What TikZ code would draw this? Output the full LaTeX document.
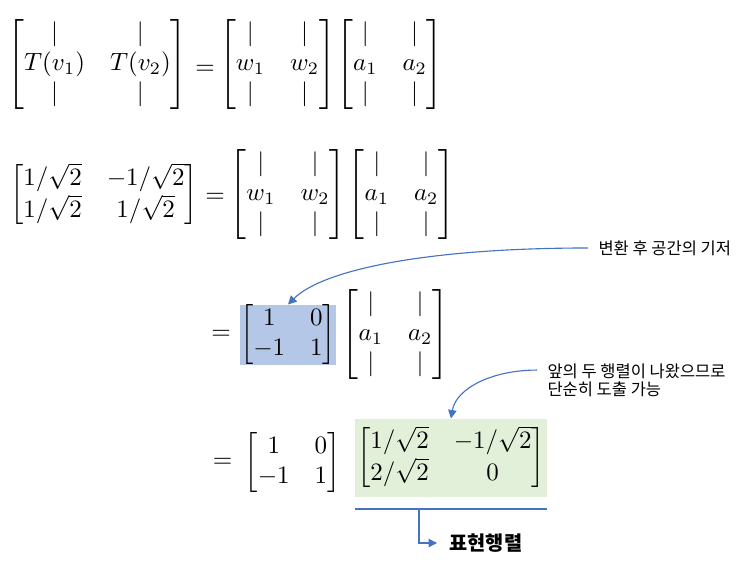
\documentclass[tikz,border=0pt]{standalone}
\usepackage{amsmath}
\usepackage{fontspec}
\newfontfamily\krfont{Noto Sans CJK KR}
\usetikzlibrary{arrows.meta}
\definecolor{noteblue}{HTML}{4472C4}
\definecolor{basisfill}{HTML}{B4C7E7}
\definecolor{reprfill}{HTML}{E2F0D9}

\begin{document}
\begin{tikzpicture}[x=0.4pt,y=-0.4pt,
   mat/.style={inner sep=0pt},
   note/.style={font=\krfont\fontsize{6.6pt}{6.9pt}\selectfont,inner xsep=4pt,inner ysep=0pt,align=left},
   noteline/.style={draw=noteblue,line width=0.45pt},
   notearrow/.style={noteline,-{Triangle[length=3.4pt,width=3.4pt]}}]
   \useasboundingbox (0,0) rectangle (753,571);
   % first line
   \node[mat] (Tv)  at (97.5,65)  {$\begin{bmatrix} | & | \\ T(v_1) & T(v_2) \\ | & | \end{bmatrix}$};
   \node[mat] (eqA) at (205,70)   {$=$};
   \node[mat] (WA)  at (277.5,65) {$\begin{bmatrix} | & | \\ w_1 & w_2 \\ | & | \end{bmatrix}$};
   \node[mat] (AA)  at (390,65)   {$\begin{bmatrix} | & | \\ a_1 & a_2 \\ | & | \end{bmatrix}$};
   % second line
   \node[mat] (Rot) at (104,195)  {$\begin{bmatrix} 1/\sqrt{2} & -1/\sqrt{2} \\ 1/\sqrt{2} & 1/\sqrt{2} \end{bmatrix}$};
   \node[mat] (eqB) at (215,198)  {$=$};
   \node[mat] (WB)  at (288,194.5) {$\begin{bmatrix} | & | \\ w_1 & w_2 \\ | & | \end{bmatrix}$};
   \node[mat] (AB)  at (401.5,194.5) {$\begin{bmatrix} | & | \\ a_1 & a_2 \\ | & | \end{bmatrix}$};
   % third line
   \node[mat] (eqC) at (221,335)  {$=$};
   \node[mat,fill=basisfill] (Basis) at (288,335) {$\begin{bmatrix} 1 & 0 \\ -1 & 1 \end{bmatrix}$};
   \node[mat] (AC)  at (395.5,334.5) {$\begin{bmatrix} | & | \\ a_1 & a_2 \\ | & | \end{bmatrix}$};
   % fourth line
   \node[mat] (eqD) at (222.5,463) {$=$};
   \node[mat] (BD)  at (292.5,462.5) {$\begin{bmatrix} 1 & 0 \\ -1 & 1 \end{bmatrix}$};
   \node[mat,fill=reprfill,minimum width=76.8pt,minimum height=31.2pt] (Repr) at (451,458)
      {$\begin{bmatrix} 1/\sqrt{2} & -1/\sqrt{2} \\ 2/\sqrt{2} & 0 \end{bmatrix}$};
   % notes
   \node[note,anchor=west] (basisnote) at (588,248) {변환 후 공간의 기저};
   \node[note,anchor=north west] (reprnote) at (537,363.8) {앞의 두 행렬이 나왔으므로\\단순히 도출 가능};
   \node[font=\krfont\fontsize{7.9pt}{8.5pt}\selectfont\bfseries,inner xsep=4.8pt,anchor=west] (reprlabel) at (437,543) {표현행렬};
   \coordinate (ulL) at (355,509);
   \coordinate (ulR) at (547,509);
   \coordinate (ulM) at (419,509);
   \draw[notearrow] (basisnote.west) .. controls +(-160,0) and +(35,-35) .. (Basis.north);
   \draw[notearrow] ([yshift=-2.5pt]reprnote.north west) .. controls +(-45,0) and +(5,-30) .. (Repr.north);
   \draw[noteline] (ulL) -- (ulR);
   \draw[notearrow] (ulM) |- (reprlabel.west);
\end{tikzpicture}
\end{document}
